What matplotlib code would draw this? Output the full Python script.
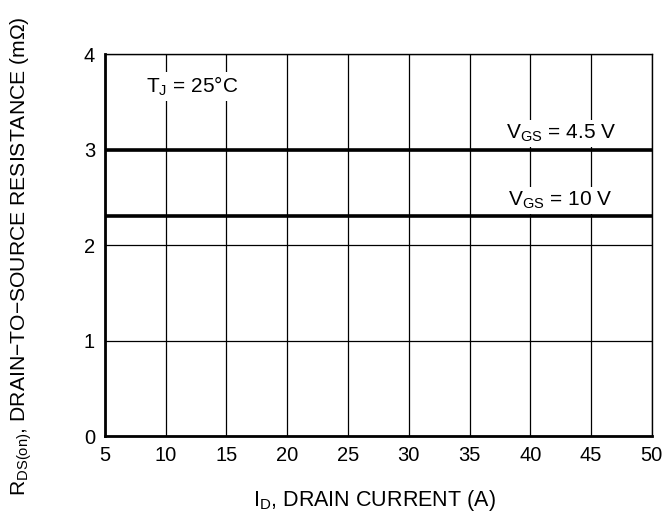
import matplotlib
matplotlib.use("Agg")
import matplotlib.pyplot as plt

plt.rcParams['font.family'] = ['Liberation Sans', 'DejaVu Sans']
plt.rcParams['mathtext.fontset'] = 'custom'
plt.rcParams['mathtext.rm'] = 'Liberation Sans'

current_a = [5, 50]
rds_vgs_4_5 = [3.0, 3.0]
rds_vgs_10 = [2.3, 2.3]
x_ticks = [5, 10, 15, 20, 25, 30, 35, 40, 45, 50]
y_ticks = [0, 1, 2, 3, 4]

fig = plt.figure(figsize=(6.72, 5.12), dpi=100)
ax = fig.add_axes([0.156, 0.1484, 0.814, 0.746])

ax.plot(current_a, rds_vgs_4_5, color='black', lw=2.6, zorder=3, solid_capstyle='butt')
ax.plot(current_a, rds_vgs_10, color='black', lw=2.6, zorder=3, solid_capstyle='butt')

ax.set_xlim(5, 50)
ax.set_ylim(0, 4)
ax.set_xticks(x_ticks)
ax.set_yticks(y_ticks)
ax.grid(True, color='black', lw=0.9, zorder=1)
ax.tick_params(length=0, labelsize=14.5, pad=7)
for s in ['left', 'bottom']:
    ax.spines[s].set_linewidth(2.0)
for s in ['top', 'right']:
    ax.spines[s].set_linewidth(1.0)

fs = 15
bbox = dict(facecolor='white', edgecolor='none', pad=2)
ax.text(12.2, 3.66, r'T$_\mathregular{J}$ = 25°C', fontsize=fs, ha='center', va='center', bbox=bbox, zorder=4)
ax.text(42.5, 3.17, r'V$_\mathregular{GS}$ = 4.5 V', fontsize=fs, ha='center', va='center', bbox=bbox, zorder=4)
ax.text(42.5, 2.47, r'V$_\mathregular{GS}$ = 10 V', fontsize=fs, ha='center', va='center', bbox=bbox, zorder=4)

ax.set_xlabel(r'I$_\mathregular{D}$, DRAIN CURRENT (A)', fontsize=15.5)
ax.xaxis.set_label_coords(0.493, -0.135)
ax.set_ylabel(r'R$_\mathregular{DS(on)}$, DRAIN−TO−SOURCE RESISTANCE (mΩ)', fontsize=15.2)
ax.yaxis.set_label_coords(-0.13, 0.47)

fig.savefig('out.png', dpi=100)
